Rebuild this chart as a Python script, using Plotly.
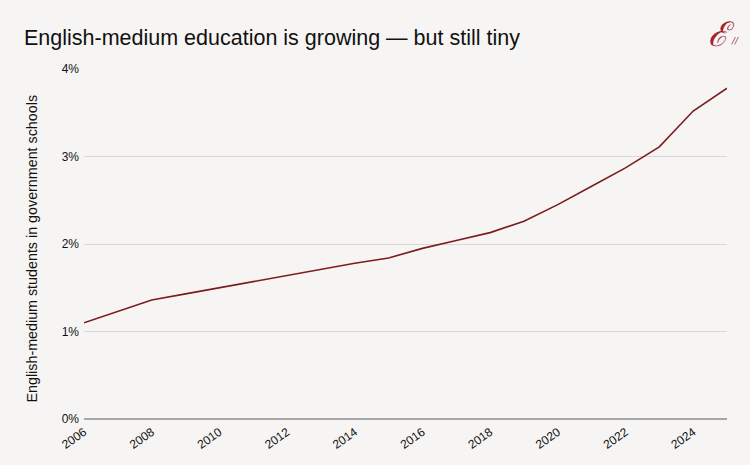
import plotly.graph_objects as go

years = list(range(2006, 2026))
share_pct = [1.10, 1.23, 1.36, 1.43, 1.50, 1.57, 1.64, 1.71, 1.78, 1.84,
             1.95, 2.04, 2.13, 2.26, 2.45, 2.66, 2.87, 3.11, 3.52, 3.78]
x_ticks = list(range(2006, 2025, 2))
y_ticks = [0, 1, 2, 3, 4]
y_labels = [f"{v}%" for v in y_ticks]

BG = "#f7f5f3"
LINE = "#7b1c1f"

fig = go.Figure()
fig.add_trace(go.Scatter(x=years, y=share_pct, mode="lines",
                         line=dict(color=LINE, width=1.6),
                         hoverinfo="x+y", showlegend=False))

fig.update_layout(
    width=750, height=465,
    paper_bgcolor=BG, plot_bgcolor=BG,
    margin=dict(l=84, r=23, t=69, b=46),
    font=dict(family="Liberation Sans, Arial, sans-serif", color="#111"),
    title=dict(text="English-medium education is growing — but still tiny",
               x=24/750, xref="container", xanchor="left",
               y=1-37/465, yref="container", yanchor="middle",
               font=dict(size=21.5, color="#111")),
)
fig.update_xaxes(range=[2006, 2025], tickvals=x_ticks, ticktext=[str(t) for t in x_ticks],
                 tickangle=-35, tickfont=dict(size=12, color="#111"),
                 showgrid=False, zeroline=False, showline=False, ticks="",
                 ticklabelstandoff=3)
fig.update_yaxes(range=[0, 4], tickvals=y_ticks, ticktext=y_labels,
                 tickfont=dict(size=12, color="#111"),
                 showgrid=True, gridcolor="#d9d7d5", gridwidth=1,
                 zeroline=True, zerolinecolor="#a8a6a4", zerolinewidth=2,
                 showline=False, ticks="", ticklabelstandoff=4)

fig.add_annotation(text="English-medium students in government schools",
                   xref="paper", yref="paper", x=(31-84)/643, y=(419-248.5)/350,
                   textangle=-90, showarrow=False,
                   font=dict(size=14.3, color="#111"), xanchor="center", yanchor="middle")
fig.add_annotation(text="<i>ℰ</i>", xref="paper", yref="paper",
                   x=(721-84)/643, y=(419-34)/350, showarrow=False,
                   font=dict(size=34, color="#a3222e", family="DejaVu Serif, serif"),
                   xanchor="center", yanchor="middle")
fig.add_annotation(text="<i>//</i>", xref="paper", yref="paper",
                   x=(735-84)/643, y=(419-41)/350, showarrow=False,
                   font=dict(size=9, color="#a3222e", family="DejaVu Serif, serif"),
                   xanchor="center", yanchor="middle")

fig.write_html("out.html")
